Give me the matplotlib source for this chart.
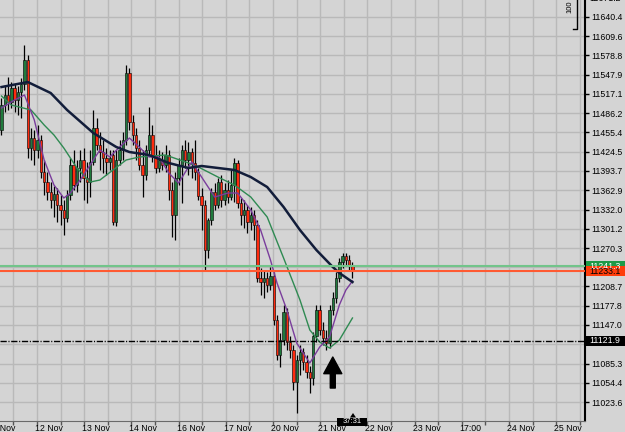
import numpy as np
import matplotlib
matplotlib.use('Agg')
import matplotlib.pyplot as plt
import matplotlib.transforms as mtransforms
from matplotlib.patches import Rectangle, Polygon
from matplotlib.lines import Line2D

plt.rcParams['font.family'] = 'Liberation Sans'

#%% data
opens = [
    11459.3, 11499.4, 11515.4, 11504.2, 11526.6, 11507.4, 11520.2, 11533.0, 11571.5, 11430.5,
    11446.5, 11427.3, 11443.3, 11392.1, 11376.0, 11360.0, 11347.2, 11356.8, 11339.2, 11331.2,
    11318.4, 11355.2, 11403.3, 11371.2, 11398.5, 11411.3, 11382.4, 11376.0, 11408.1, 11462.5,
    11435.3, 11424.1, 11414.5, 11408.1, 11419.3, 11312.0, 11411.3, 11427.3, 11443.3, 11550.7,
    11472.2, 11451.3, 11430.5, 11403.3, 11387.3, 11427.3, 11451.3, 11419.3, 11398.5, 11411.3,
    11403.3, 11419.3, 11363.2, 11323.2, 11382.4, 11403.3, 11427.3, 11411.3, 11424.1, 11406.5,
    11392.1, 11353.6, 11339.2, 11267.1, 11315.2, 11360.0, 11339.2, 11376.0, 11347.2, 11363.2,
    11352.0, 11371.2, 11406.5, 11342.4, 11323.2, 11331.2, 11312.0, 11323.2, 11307.2, 11222.2,
    11215.8, 11222.2, 11211.0, 11225.4, 11155.0, 11098.9, 11122.9, 11167.8, 11119.7, 11106.9,
    11055.6, 11090.9, 11103.7, 11087.7, 11071.7, 11062.0, 11129.3, 11171.0, 11139.0, 11126.1,
    11118.1, 11171.0, 11190.2, 11222.2, 11247.9, 11257.5, 11251.1, 11241.5]
closes = [
    11499.4, 11515.4, 11504.2, 11526.6, 11507.4, 11520.2, 11533.0, 11571.5, 11430.5, 11446.5,
    11427.3, 11443.3, 11392.1, 11376.0, 11360.0, 11347.2, 11356.8, 11339.2, 11331.2, 11318.4,
    11355.2, 11403.3, 11371.2, 11398.5, 11411.3, 11382.4, 11376.0, 11408.1, 11462.5, 11435.3,
    11424.1, 11414.5, 11408.1, 11414.5, 11312.0, 11411.3, 11427.3, 11443.3, 11550.7, 11472.2,
    11451.3, 11430.5, 11403.3, 11387.3, 11427.3, 11451.3, 11419.3, 11398.5, 11411.3, 11403.3,
    11419.3, 11363.2, 11323.2, 11382.4, 11403.3, 11427.3, 11411.3, 11424.1, 11406.5, 11392.1,
    11353.6, 11339.2, 11267.1, 11315.2, 11360.0, 11339.2, 11376.0, 11347.2, 11363.2, 11352.0,
    11371.2, 11406.5, 11342.4, 11323.2, 11331.2, 11312.0, 11323.2, 11307.2, 11222.2, 11215.8,
    11222.2, 11211.0, 11225.4, 11155.0, 11098.9, 11122.9, 11167.8, 11119.7, 11106.9, 11055.6,
    11090.9, 11103.7, 11087.7, 11071.7, 11062.0, 11129.3, 11171.0, 11139.0, 11126.1, 11118.1,
    11171.0, 11190.2, 11222.2, 11247.9, 11257.5, 11251.1, 11241.5, 11233.1]
highs = [
    11510.6, 11531.4, 11544.3, 11536.2, 11533.0, 11529.8, 11542.6, 11595.5, 11579.5, 11462.5,
    11459.3, 11467.4, 11451.3, 11411.3, 11392.1, 11376.0, 11369.6, 11366.4, 11355.2, 11347.2,
    11363.2, 11414.5, 11427.3, 11411.3, 11427.3, 11430.5, 11408.1, 11427.3, 11491.4, 11478.6,
    11456.1, 11443.3, 11430.5, 11427.3, 11427.3, 11427.3, 11443.3, 11456.1, 11563.5, 11558.7,
    11483.4, 11462.5, 11443.3, 11427.3, 11435.3, 11496.2, 11467.4, 11435.3, 11427.3, 11424.1,
    11435.3, 11427.3, 11376.0, 11392.1, 11414.5, 11435.3, 11443.3, 11440.1, 11430.5, 11443.3,
    11398.5, 11366.4, 11347.2, 11318.4, 11366.4, 11374.4, 11382.4, 11387.3, 11374.4, 11379.2,
    11395.3, 11414.5, 11411.3, 11350.4, 11347.2, 11339.2, 11336.0, 11331.2, 11315.2, 11238.3,
    11235.1, 11231.9, 11239.9, 11231.9, 11163.0, 11134.1, 11179.0, 11174.2, 11129.3, 11114.9,
    11098.9, 11114.9, 11110.1, 11098.9, 11081.3, 11135.7, 11179.0, 11179.0, 11151.8, 11139.0,
    11179.0, 11199.8, 11231.9, 11254.3, 11262.3, 11262.3, 11259.1, 11247.9]
lows = [
    11451.3, 11488.2, 11491.4, 11494.6, 11488.2, 11483.4, 11478.6, 11523.4, 11414.5, 11411.3,
    11403.3, 11414.5, 11382.4, 11355.2, 11347.2, 11334.4, 11320.0, 11312.0, 11307.2, 11291.1,
    11312.0, 11347.2, 11363.2, 11360.0, 11376.0, 11347.2, 11342.4, 11352.0, 11403.3, 11427.3,
    11395.3, 11390.5, 11387.3, 11395.3, 11307.2, 11305.6, 11403.3, 11411.3, 11435.3, 11459.3,
    11435.3, 11411.3, 11395.3, 11352.0, 11379.2, 11419.3, 11408.1, 11390.5, 11392.1, 11395.3,
    11392.1, 11347.2, 11287.9, 11283.1, 11371.2, 11342.4, 11398.5, 11387.3, 11382.4, 11379.2,
    11347.2, 11299.1, 11235.1, 11254.3, 11307.2, 11331.2, 11334.4, 11336.0, 11339.2, 11342.4,
    11347.2, 11344.0, 11334.4, 11307.2, 11302.3, 11294.3, 11299.1, 11283.1, 11215.8, 11195.0,
    11190.2, 11199.8, 11203.0, 11147.0, 11090.9, 11079.7, 11114.9, 11106.9, 11094.1, 11042.8,
    11006.0, 11066.9, 11074.9, 11062.0, 11038.0, 11050.8, 11119.7, 11130.9, 11114.9, 11106.9,
    11110.1, 11163.0, 11182.2, 11215.8, 11238.3, 11241.5, 11235.1, 11222.2]

# moving averages, sampled at bar indices
ma_slow_idx = [0, 8, 15, 20, 28, 35, 39, 45, 51, 57, 61, 71, 76, 81, 86, 91, 96, 101, 103, 107]
ma_slow = [11528.2, 11536.2, 11518.6, 11491.4, 11454.5, 11432.1, 11424.1, 11419.3, 11406.5, 11398.5,
           11401.7, 11395.3, 11384.0, 11368.0, 11336.0, 11299.1, 11267.1, 11239.9, 11230.3, 11215.8]
ma_mid_idx = [0, 3, 9, 13, 16, 19, 23, 27, 30, 34, 38, 42, 50, 57, 60, 66, 71, 76, 81, 86,
              91, 94, 97, 100, 103, 107]
ma_mid = [11513.8, 11499.4, 11491.4, 11467.4, 11451.3, 11430.5, 11398.5, 11376.0, 11379.2, 11395.3,
          11411.3, 11416.1, 11419.3, 11406.5, 11400.1, 11384.0, 11371.2, 11352.0, 11320.0, 11254.3,
          11187.0, 11139.0, 11119.7, 11110.1, 11122.9, 11158.2]
ma_fast_idx = [0, 4, 7, 10, 13, 16, 19, 21, 24, 28, 30, 33, 36, 39, 42, 45, 48, 51, 54, 57,
               58, 61, 65, 69, 72, 76, 79, 82, 84, 87, 90, 94, 97, 100, 103, 105, 107]
ma_fast = [11494.6, 11507.4, 11515.4, 11475.4, 11411.3, 11371.2, 11350.4, 11358.4, 11379.2, 11411.3,
           11427.3, 11416.1, 11432.1, 11446.5, 11432.1, 11416.1, 11416.1, 11390.5, 11374.4, 11400.1,
           11408.1, 11384.0, 11352.0, 11358.4, 11358.4, 11331.2, 11299.1, 11251.1, 11214.2, 11171.0,
           11118.1, 11086.1, 11111.7, 11127.7, 11179.0, 11203.0, 11217.4]

ask_price = 11241.3
bid_price = 11233.1
level_price = 11121.9

grid_prices = [11640.4, 11609.6, 11578.8, 11547.9, 11517.1, 11486.2, 11455.4, 11424.5, 11393.7,
               11362.9, 11332.0, 11301.2, 11270.3, 11239.5, 11208.7, 11177.8, 11147.0, 11116.1,
               11085.3, 11054.4, 11023.6]
hidden_labels = [11239.5, 11116.1]
top_label = '11671.2'
date_labels = ['11 Nov', '12 Nov', '13 Nov', '14 Nov', '16 Nov', '17 Nov', '20 Nov',
               '21 Nov', '22 Nov', '23 Nov', '17:00', '24 Nov', '25 Nov']
timer_text = '37:31'
arrow_tip, arrow_tail, arrow_bar = 11095.7, 11046.0, 101

#%% layout
W, H = 625, 432
PW, PH = 585, 421
BAR0, BAR_DX = 1.5, 3.28
GRID0, GRID_DX = 13.3, 23.6
BG = '#d4d4d4'


def px2i(px):
    return (px - BAR0) / BAR_DX


fig = plt.figure(figsize=(W / 100, H / 100), dpi=100, facecolor=BG)
ax = fig.add_axes([0, (H - PH) / H, PW / W, PH / H])
ax.set_facecolor(BG)
ax.set_xlim(px2i(0), px2i(PW))
ax.set_ylim(10993.2, 11667.6)
ppx = (11667.6 - 10993.2) / PH  # price per pixel

ax.set_yticks(grid_prices)
ax.set_yticklabels(['' if p in hidden_labels else '%.1f' % p for p in grid_prices])
ax.yaxis.tick_right()
ax.set_xticks([px2i(GRID0 + GRID_DX * k) for k in range(25)])
ax.set_xticklabels([])
ax.grid(True, color='#b9b9b9', lw=1)
ax.set_axisbelow(True)
ax.tick_params(axis='y', labelsize=6.3, length=3, width=1, pad=1.5, colors='black', direction='out')
ax.tick_params(axis='x', length=3, width=1, color='#555555', direction='out')
for s in ['top', 'left']:
    ax.spines[s].set_visible(False)
ax.spines['right'].set_color('black')
ax.spines['right'].set_linewidth(1.5)
ax.spines['bottom'].set_color('#6a6a6a')

for n, lab in enumerate(date_labels):
    k = 2 * n - 1
    ax.text(px2i(GRID0 + GRID_DX * k - 2), -0.008, lab, transform=ax.get_xaxis_transform(),
            ha='left', va='top', fontsize=6.3, clip_on=False)
fig.text(589 / W, 1 + 2 / H, top_label, fontsize=6.3, va='center', ha='left')

#%% candles
idx = np.arange(len(opens))
o = np.array(opens)
c = np.array(closes)
up = c >= o
bottoms = np.minimum(o, c)
heights = np.maximum(np.abs(c - o), 1.2)
colors = np.where(up, '#1f7a3c', '#ff2a0e')
ax.vlines(idx, lows, highs, color='black', lw=0.9, zorder=3)
ax.bar(idx, heights, bottom=bottoms, width=0.72, color=colors, edgecolor='black', linewidth=0.4, zorder=4)

ax.plot(ma_mid_idx, ma_mid, color='#2f8a52', lw=1.0, zorder=5)
ax.plot(ma_fast_idx, ma_fast, color='#7a3d9c', lw=1.0, zorder=5)
ax.plot(ma_slow_idx, ma_slow, color='#121d3a', lw=1.8, zorder=5)

ax.axhline(ask_price, color='#72c48a', lw=1.5, zorder=6)
ax.axhline(bid_price, color='#ff5a32', lw=1.5, zorder=6)
ax.axhline(level_price, color='black', lw=1, linestyle=(0, (4.5, 1.2, 0.8, 1.2)), zorder=6)

ax.annotate('', xy=(arrow_bar, arrow_tip), xytext=(arrow_bar, arrow_tail),
            arrowprops=dict(facecolor='black', edgecolor='black', width=3.6,
                            headwidth=13, headlength=12, shrink=0), zorder=7)

#%% price boxes on the right scale
tr = mtransforms.blended_transform_factory(ax.transAxes, ax.transData)


def price_box(price, text, fc, tc):
    h = 10 * ppx
    ax.add_patch(Rectangle((1.0 + 1 / PW, price - h / 2), 40 / PW, h, transform=tr,
                           fc=fc, ec='none', clip_on=False, zorder=10))
    ax.text(1.0 + 4 / PW, price, text, transform=tr, fontsize=6.3, color=tc,
            va='center', ha='left', clip_on=False, zorder=11)


price_box(ask_price, '%.1f' % ask_price, '#1f9a48', 'white')
price_box(bid_price, '%.1f' % bid_price, '#ff3c0a', 'black')
price_box(level_price, '%.1f' % level_price, 'black', 'white')

# small marks in the corners
fig.text(570 / W, 1 - 7 / H, '100', rotation=90, fontsize=5.5, ha='center', va='center')
fig.add_artist(Line2D([577 / W, 577 / W, 573 / W], [1, 1 - 29 / H, 1 - 29 / H], color='black', lw=1))
fig.add_artist(Rectangle((337 / W, 1 - 426 / H), 30 / W, 8.5 / H, transform=fig.transFigure,
                         fc='black', ec='none', zorder=20))
fig.text(352 / W, 1 - 421.8 / H, timer_text, fontsize=5.5, color='white', ha='center', va='center', zorder=21)
fig.add_artist(Polygon([(350 / W, 1 - 417.5 / H), (356 / W, 1 - 417.5 / H), (353 / W, 1 - 413 / H)],
                       closed=True, transform=fig.transFigure, fc='black', ec='none', zorder=20))

fig.savefig('out.png', dpi=100, facecolor=fig.get_facecolor())
